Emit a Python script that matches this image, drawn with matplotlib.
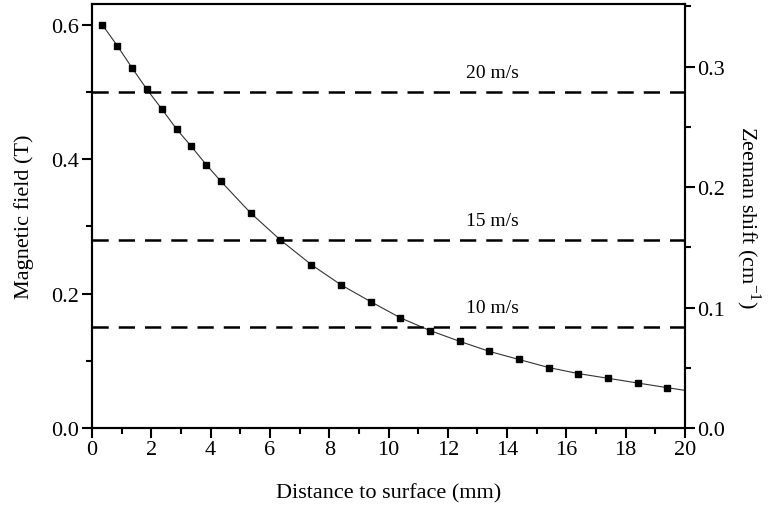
import matplotlib
matplotlib.use("Agg")
import matplotlib.pyplot as plt
from matplotlib.ticker import MultipleLocator

plt.rcParams['font.family'] = ['Liberation Serif', 'DejaVu Serif']
plt.rcParams['mathtext.fontset'] = 'custom'
plt.rcParams['mathtext.rm'] = 'Liberation Serif'

# data
distance_mm = [0.35, 0.85, 1.35, 1.85, 2.35, 2.85, 3.35, 3.85, 4.35, 5.35, 6.35,
               7.4, 8.4, 9.4, 10.4, 11.4, 12.4, 13.4, 14.4, 15.4, 16.4, 17.4, 18.4, 19.4]
field_T = [0.600, 0.569, 0.536, 0.504, 0.475, 0.445, 0.419, 0.392, 0.367, 0.320, 0.280,
           0.243, 0.213, 0.188, 0.164, 0.145, 0.129, 0.114, 0.102, 0.090, 0.081, 0.074, 0.067, 0.060]
fit_end_x = 20.0
fit_end_y = 0.056

speed_labels = ['20 m/s', '15 m/s', '10 m/s']
speed_shift = [0.279, 0.1557, 0.0837]   # Zeeman shift (cm^-1)

fig = plt.figure(figsize=(7.68, 5.10), dpi=100)
ax = fig.add_axes([92/768, 81/510, 593/768, 424/510])
ax2 = ax.twinx()

ax.plot(distance_mm + [fit_end_x], field_T + [fit_end_y], color='#333333', lw=0.8, zorder=2)
ax.plot(distance_mm, field_T, ls='none', marker='s', ms=4.3, color='black', zorder=3)

for lab, s in zip(speed_labels, speed_shift):
    ax2.axhline(s, color='black', lw=1.8, dashes=(6.5, 4))
    ax2.text(13.5, s + 0.0165, lab, ha='center', va='center', fontsize=14)

ax.set_xlim(0, 20)
ax.set_ylim(0, 0.631)
ax2.set_ylim(0, 0.352)

ax.xaxis.set_major_locator(MultipleLocator(2))
ax.xaxis.set_minor_locator(MultipleLocator(1))
ax.yaxis.set_major_locator(MultipleLocator(0.2))
ax.yaxis.set_minor_locator(MultipleLocator(0.1))
ax2.yaxis.set_major_locator(MultipleLocator(0.1))
ax2.yaxis.set_minor_locator(MultipleLocator(0.05))

ax.yaxis.set_major_formatter(matplotlib.ticker.FormatStrFormatter('%.1f'))
ax2.yaxis.set_major_formatter(matplotlib.ticker.FormatStrFormatter('%.1f'))

for a in (ax, ax2):
    for sp in a.spines.values():
        sp.set_linewidth(1.5)
ax.tick_params(axis='both', which='major', direction='out', length=7, width=1.5, labelsize=16, pad=2)
ax.tick_params(axis='both', which='minor', direction='out', length=4, width=1.5)
ax2.tick_params(axis='y', which='major', direction='out', length=7, width=1.5, labelsize=16, pad=2)
ax2.tick_params(axis='y', which='minor', direction='out', length=4, width=1.5)

ax.set_xlabel('Distance to surface (mm)', fontsize=16, labelpad=17)
ax.set_ylabel('Magnetic field (T)', fontsize=16, labelpad=13)
ax2.set_ylabel('Zeeman shift (cm$^{-1}$)', fontsize=16, rotation=270, labelpad=27)

fig.savefig('out.png', dpi=100)
